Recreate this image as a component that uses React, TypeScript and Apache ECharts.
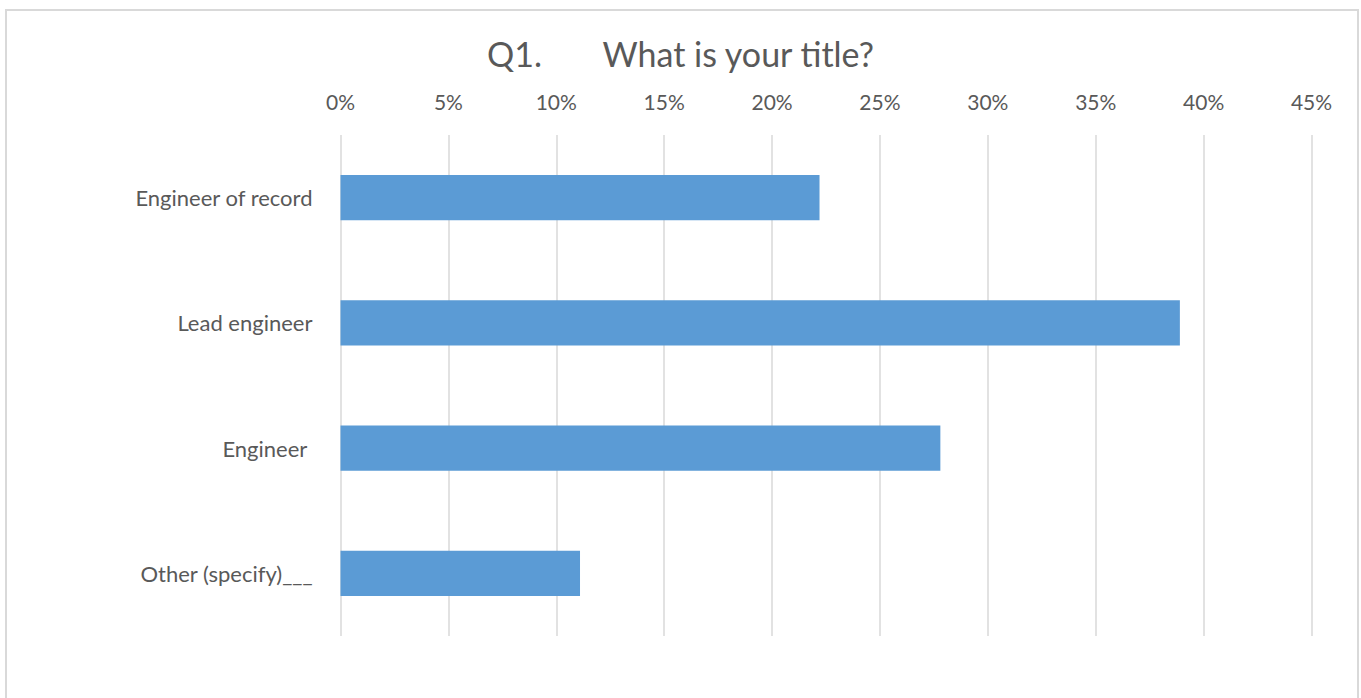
import React, { useEffect, useRef } from "react";
import * as echarts from "echarts";

const categories = ["Engineer of record", "Lead engineer", "Engineer ", "Other (specify)___"];
const values = [22.2, 38.9, 27.8, 11.1];
const titleText = "Q1.       What is your title?";
const FONT = "Lato, 'Open Sans', sans-serif";

export default function App() {
  const ref = useRef<HTMLDivElement>(null);
  useEffect(() => {
    const chart = echarts.init(ref.current!, null, { renderer: "svg" });
    chart.setOption({
      animation: false,
      backgroundColor: "#ffffff",
      title: {
        text: titleText,
        left: "center",
        top: 31,
        textStyle: { fontFamily: FONT, fontSize: 34, fontWeight: "normal", color: "#595959" },
      },
      graphic: [
        {
          type: "rect",
          shape: { x: 6, y: 10, width: 1352, height: 700 },
          style: { fill: "none", stroke: "#d9d9d9", lineWidth: 2 },
          silent: true,
        },
      ],
      grid: { left: 340.5, right: 49.5, top: 135, bottom: 62, containLabel: false },
      xAxis: {
        type: "value",
        position: "top",
        min: 0,
        max: 45,
        interval: 5,
        axisLine: { show: false },
        axisTick: { show: false },
        splitLine: { show: true, lineStyle: { color: "#d9d9d9", width: 1.5 } },
        axisLabel: {
          formatter: "{value}%",
          fontFamily: FONT,
          fontSize: 21,
          color: "#595959",
          margin: 23,
        },
      },
      yAxis: {
        type: "category",
        data: categories,
        inverse: true,
        axisLine: { show: false },
        axisTick: { show: false },
        axisLabel: { fontFamily: FONT, fontSize: 22, color: "#595959", margin: 28, padding: [0, 0, 3, 0] },
      },
      series: [
        {
          type: "bar",
          data: values,
          barWidth: "36%",
          itemStyle: { color: "#5B9BD5" },
        },
      ],
    });
    return () => chart.dispose();
  }, []);
  return (
    <div
      ref={ref}
      style={{ position: "fixed", left: 0, top: 0, width: 1361, height: 698 }}
    />
  );
}
